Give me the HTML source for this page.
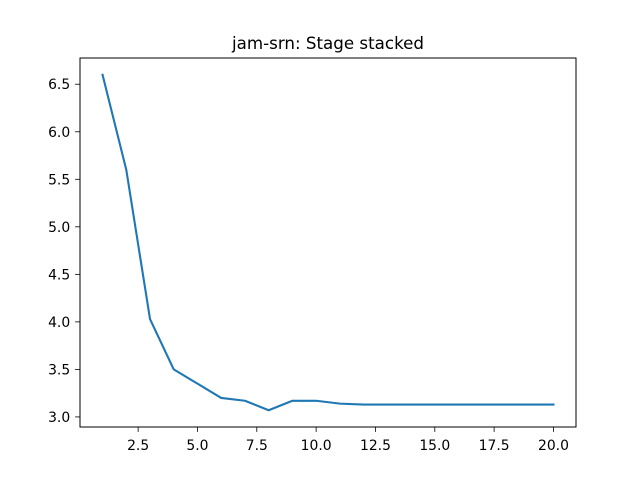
<!DOCTYPE html>
<html><head><meta charset="utf-8"><style>
body{margin:0;background:#fff;}
svg text{font-family:"DejaVu Sans","Liberation Sans",sans-serif;}
</style></head><body>
<svg id="chart" width="640" height="480" xmlns="http://www.w3.org/2000/svg">
<rect width="640" height="480" fill="#fff"/>
<text x="328" y="49" font-size="16.7" text-anchor="middle">jam-srn: Stage stacked</text>
<g id="plot"></g>
<rect x="80" y="58" width="496" height="369" fill="none" stroke="#000" stroke-width="1"/>
</svg>
<script>
const xValues=[1,2,3,4,5,6,7,8,9,10,11,12,13,14,15,16,17,18,19,20];
const yValues=[6.6,5.6,4.03,3.5,3.35,3.2,3.17,3.07,3.17,3.17,3.14,3.13,3.13,3.13,3.13,3.13,3.13,3.13,3.13,3.13];
const xTicks=[2.5,5.0,7.5,10.0,12.5,15.0,17.5,20.0];
const yTicks=[3.0,3.5,4.0,4.5,5.0,5.5,6.0,6.5];
const L=80,R=576,T=58,B=427;
const xmin=0.05,xmax=20.95,ymin=2.894,ymax=6.776;
const sx=v=>L+(v-xmin)/(xmax-xmin)*(R-L);
const sy=v=>B-(v-ymin)/(ymax-ymin)*(B-T);
const ns="http://www.w3.org/2000/svg";
const g=document.getElementById('plot');
function mk(t,a){const e=document.createElementNS(ns,t);for(const k in a)e.setAttribute(k,a[k]);g.appendChild(e);return e;}
xTicks.forEach(v=>{
const x=sx(v);
const l=mk('line',{x1:x,x2:x,y1:B,y2:B+4.9,stroke:'#000','stroke-width':0.8});


const t=mk('text',{x:x,y:B+23,'font-size':13.9,'text-anchor':'middle'});
t.textContent=v.toFixed(1);


});
yTicks.forEach(v=>{
const y=sy(v);
const l=mk('line',{x1:L-4.9,x2:L,y1:y,y2:y,stroke:'#000','stroke-width':0.8});


const t=mk('text',{x:L-9.8,y:y+5,'font-size':13.9,'text-anchor':'end'});
t.textContent=v.toFixed(1);


});
const p=mk('polyline',{points:xValues.map((x,i)=>sx(x)+','+sy(yValues[i])).join(' '),fill:'none',stroke:'#1f77b4','stroke-width':2.1,'stroke-linejoin':'round','stroke-linecap':'square'});


</script>
</body></html>
